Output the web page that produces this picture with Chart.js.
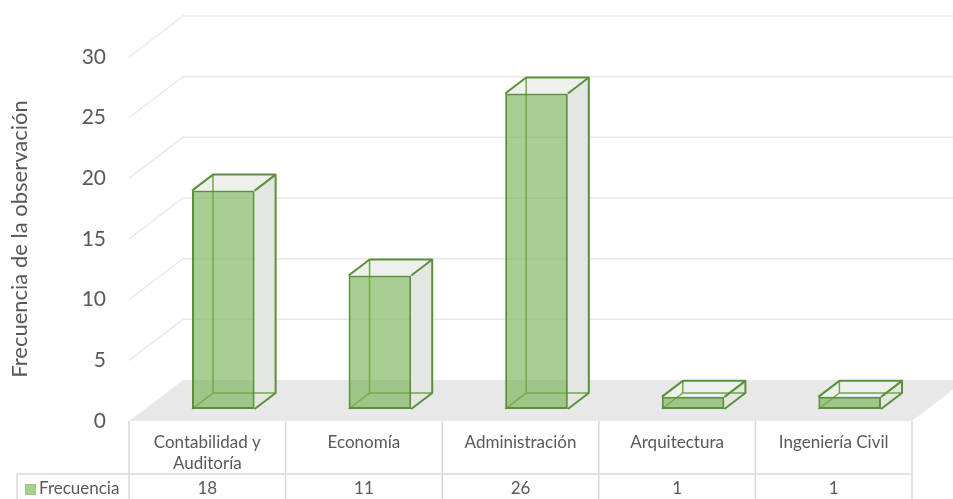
<!DOCTYPE html>
<html lang="es">
<head>
<meta charset="utf-8">
<title>Frecuencia por carrera</title>
<script src="https://cdn.jsdelivr.net/npm/chart.js@4.4.1/dist/chart.umd.min.js"></script>
<style>
  html, body { margin: 0; padding: 0; background: #ffffff; }
  #wrap { width: 953px; height: 499px; }
</style>
</head>
<body>
<div id="wrap"><canvas id="frecuenciaChart" width="953" height="499"></canvas></div>
<script>
// datos
const carreras = [['Contabilidad y', 'Auditoría'], 'Economía', 'Administración', 'Arquitectura', 'Ingeniería Civil'];
const frecuencia = [18, 11, 26, 1, 1];
const serieNombre = 'Frecuencia';
const ejeYTitulo = 'Frecuencia de la observación';

const FUENTE = 'Lato, "Open Sans", sans-serif';
const GRIS_TEXTO = '#595959';
const VERDE = 'rgba(112, 173, 71, 0.6)';
const VERDE_BORDE = '#5b8f3c';

// profundidad de la caja 3D (pared del fondo) y de las barras
const PROF = { dx: 54, dy: -41 };
const BARRA_POS = { dx: 16, dy: -12 };
const BARRA_PROF = { dx: 21, dy: -16 };

const fondo3D = {
    id: 'fondo3D',
    beforeDatasetsDraw(chart) {
        const { ctx, chartArea: a, scales: { y } } = chart;
        ctx.save();
        // suelo
        ctx.fillStyle = '#e8e8e8';
        ctx.beginPath();
        ctx.moveTo(a.left, a.bottom);
        ctx.lineTo(a.right, a.bottom);
        ctx.lineTo(a.right + PROF.dx, a.bottom + PROF.dy);
        ctx.lineTo(a.left + PROF.dx, a.bottom + PROF.dy);
        ctx.closePath();
        ctx.fill();
        // lineas de division en la pared del fondo
        ctx.strokeStyle = '#e9e9e9';
        ctx.lineWidth = 1.5;
        y.ticks.forEach(t => {
            if (t.value === 0) return;
            const yf = y.getPixelForValue(t.value);
            ctx.beginPath();
            ctx.moveTo(a.left, yf);
            ctx.lineTo(a.left + PROF.dx, yf + PROF.dy);
            ctx.lineTo(chart.width, yf + PROF.dy);
            ctx.stroke();
        });

        // caras traseras y laterales de cada barra
        const meta = chart.getDatasetMeta(0);
        ctx.translate(BARRA_POS.dx, BARRA_POS.dy);
        const dx = BARRA_PROF.dx, dy = BARRA_PROF.dy;
        meta.data.forEach(bar => {
            const L = bar.x - bar.width / 2, R = bar.x + bar.width / 2;
            const T = bar.y, B = bar.base;
            // cara derecha
            ctx.fillStyle = '#e4e6e1';
            ctx.beginPath();
            ctx.moveTo(R, T); ctx.lineTo(R + dx, T + dy);
            ctx.lineTo(R + dx, B + dy); ctx.lineTo(R, B);
            ctx.closePath(); ctx.fill();
            // cara superior
            ctx.fillStyle = '#eef0eb';
            ctx.beginPath();
            ctx.moveTo(L, T); ctx.lineTo(R, T);
            ctx.lineTo(R + dx, T + dy); ctx.lineTo(L + dx, T + dy);
            ctx.closePath(); ctx.fill();
            // aristas ocultas, vistas a traves del frente
            ctx.strokeStyle = '#70a84f';
            ctx.lineWidth = 1.5;
            ctx.beginPath();
            ctx.moveTo(L + dx, T + dy); ctx.lineTo(L + dx, B + dy);
            ctx.lineTo(R + dx, B + dy);
            ctx.moveTo(L, B); ctx.lineTo(L + dx, B + dy);
            ctx.stroke();
            // aristas exteriores
            ctx.strokeStyle = VERDE_BORDE;
            ctx.lineWidth = 2;
            ctx.lineJoin = 'round';
            ctx.beginPath();
            ctx.moveTo(L, T); ctx.lineTo(L + dx, T + dy);
            ctx.lineTo(R + dx, T + dy); ctx.lineTo(R, T);
            ctx.moveTo(R + dx, T + dy); ctx.lineTo(R + dx, B + dy);
            ctx.lineTo(R, B);
            ctx.stroke();
        });
        // el frente de las barras lo dibuja Chart.js con este mismo desplazamiento
    },
    afterDatasetsDraw(chart) {
        chart.ctx.restore();
    },
    afterDraw(chart) {
        // tabla de datos bajo el eje
        const { ctx, chartArea: a, scales: { x } } = chart;
        const colW = (a.right - a.left) / carreras.length;
        const filaY = 474;
        ctx.save();
        ctx.strokeStyle = '#d9d9d9';
        ctx.lineWidth = 1.5;
        ctx.beginPath();
        for (let i = 0; i <= carreras.length; i++) {
            const xx = a.left + i * colW;
            ctx.moveTo(xx, a.bottom);
            ctx.lineTo(xx, chart.height);
        }
        ctx.moveTo(17, filaY); ctx.lineTo(a.right, filaY);
        ctx.moveTo(17, filaY); ctx.lineTo(17, chart.height);
        ctx.stroke();

        ctx.font = '17px ' + FUENTE;
        ctx.fillStyle = GRIS_TEXTO;
        ctx.textAlign = 'center';
        ctx.textBaseline = 'middle';
        frecuencia.forEach((v, i) => {
            ctx.fillText(String(v), x.getPixelForTick(i), 489);
        });
        // clave de la serie
        ctx.fillStyle = VERDE;
        ctx.fillRect(25, 484, 11, 11);
        ctx.strokeStyle = '#9cc87e';
        ctx.lineWidth = 1;
        ctx.strokeRect(25.5, 484.5, 10, 10);
        ctx.fillStyle = GRIS_TEXTO;
        ctx.textAlign = 'left';
        ctx.fillText(serieNombre, 39, 489);
        ctx.restore();
    }
};

const ctx = document.getElementById('frecuenciaChart').getContext('2d');
new Chart(ctx, {
    type: 'bar',
    data: {
        labels: carreras,
        datasets: [{
            label: serieNombre,
            data: frecuencia,
            backgroundColor: VERDE,
            borderColor: VERDE_BORDE,
            borderWidth: 2,
            borderSkipped: false,
            barPercentage: 0.4,
            categoryPercentage: 1
        }]
    },
    options: {
        responsive: false,
        animation: false,
        devicePixelRatio: 1,
        layout: {
            padding: { top: 57, right: 41, bottom: 0, left: 0 }
        },
        plugins: {
            legend: { display: false },
            tooltip: { enabled: false }
        },
        scales: {
            x: {
                grid: { display: false, drawTicks: false },
                border: { display: false },
                ticks: {
                    color: GRIS_TEXTO,
                    padding: 11,
                    maxRotation: 0,
                    autoSkip: false,
                    font: { family: FUENTE, size: 17, lineHeight: 1.24 }
                },
                afterFit: function(scale) { scale.height = 78; }
            },
            y: {
                min: 0,
                max: 30,
                grid: { display: false, drawTicks: false },
                border: { display: false },
                ticks: {
                    stepSize: 5,
                    color: GRIS_TEXTO,
                    padding: 23,
                    font: { family: FUENTE, size: 21 }
                },
                title: {
                    display: true,
                    text: ejeYTitulo,
                    color: GRIS_TEXTO,
                    padding: { top: 7, bottom: 0 },
                    font: { family: FUENTE, size: 22 }
                },
                afterFit: function(scale) { scale.width = 129; }
            }
        }
    },
    plugins: [fondo3D]
});
</script>
</body>
</html>
